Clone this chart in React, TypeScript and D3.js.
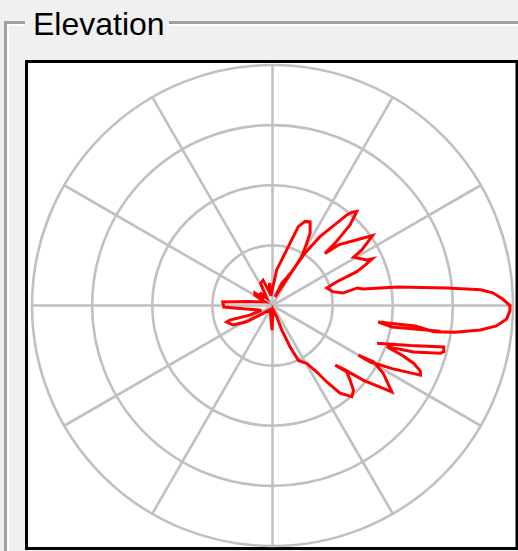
import React, { useEffect } from "react";
import * as d3 from "d3";

const title = "Elevation";

// pattern traced around the plot, [angle deg (0 = right, ccw), gain dB]
const lowerLobes = [
  [-19.9, -21.5], [-16.2, -16.1], [-13.6, -10.7], [-15.1, -10.5], [-15.9, -11.0], [-18.2, -15.3], [-19.8, -19.8],
  [-21.0, -16.9], [-22.3, -14.6], [-23.9, -13.1], [-25.2, -12.8], [-27.8, -17.5], [-30.0, -21.2], [-30.0, -23.5],
  [-29.1, -20.8], [-31.5, -18.4], [-35.9, -15.5], [-39.4, -20.4], [-41.9, -24.2], [-43.6, -25.6],
  [-41.8, -23.4], [-43.9, -22.1], [-46.3, -20.5], [-49.0, -19.9], [-52.4, -21.6], [-54.6, -24.4],
  [-56.3, -26.7], [-59.4, -28.8], [-64.7, -29.9], [-67.0, -32.5], [-69.4, -35.6], [-69.4, -38.0],
];

const backLobes = [
  [-83, -39.3], [-91, -35.9], [-120, -39.2], [215.3, -36.8], [212.1, -34.9], [206.4, -32.7], [199.8, -31.9],
  [198.8, -32.5], [202.9, -35.9], [202.6, -38.0], [185.3, -34.6], [181.8, -31.9], [176, -31.7], [170, -36.2],
  [155, -38.6], [150, -36.6], [144.5, -36.4], [140, -38.2], [135, -37.0], [128, -38.4], [118, -35.8],
  [110.4, -35.5], [104, -37.6], [97, -36.2], [100, -38.4],
];

const upperLobes = [
  [83.2, -34.0], [75.7, -30.5], [71.9, -26.2], [68.8, -25.0], [65.8, -24.75], [62.5, -26.45], [61.2, -28.2],
  [59.1, -30.5], [59.6, -33.1], [67.5, -36.0], [74, -38.5], [60, -33.0],
  [58.2, -29.7], [55.4, -26.1], [50.6, -20.5], [49.5, -19.6], [48.1, -19.0], [46.1, -21.4], [45.6, -23.2],
  [44.9, -25.3], [44.8, -27.7], [42.6, -25.1], [37.9, -22.2], [34.9, -19.7], [31.9, -22.5], [30.8, -24.3],
  [25.8, -22.6], [25.1, -21.7], [23.6, -23.2], [21.9, -24.9], [21.2, -26.7], [20.3, -28.6], [17.8, -30.5],
];

const mainLobe = [
  [12.9, -29.7], [10.0, -28.1], [11.7, -25.6], [10.3, -24.7], [8.45, -19.0], [5.7, -10.8], [4.3, -5.3],
  [3.3, -3.3], [1.6, -1.7], [0, -0.5], [-1.3, -0.5], [-3.3, -1.0], [-5.2, -2.6], [-6.7, -5.2], [-8.3, -9.3],
  [-9.25, -12.8], [-8.2, -16.0], [-8.9, -22.2], [-10.2, -19.8], [-8.7, -11.75],
];

const ringLevels = [-30, -20, -10, 0];
const spokeAngles = [0, 30, 60, 90, 120, 150, 180, 210, 240, 270, 300, 330];

const W = 518;
const H = 551;
const cx = 272.5;
const cy = 305.5;
const R = 240.5;

const App = () => {
  useEffect(() => {
    document.body.style.margin = "0";
  }, []);

  const r = d3.scaleLinear().domain([-40, 0]).range([0, R]).clamp(true);
  const rad = (a: number) => (a * Math.PI) / 180;

  const line = d3
    .line<number[]>()
    .x(d => cx + r(d[1]) * Math.cos(rad(d[0])))
    .y(d => cy - r(d[1]) * Math.sin(rad(d[0])));

  const pattern = [...lowerLobes, ...backLobes, ...upperLobes, ...mainLobe];
  const grey = "#a0a0a0";

  return (
    <svg width={W} height={H} style={{ display: "block" }}>
      <rect width={W} height={H} fill="#f0f0f0" />

      {/* group box frame */}
      <path d={`M5.5,${H} V22.5 H25 M169,22.5 H${W}`} fill="none" stroke={grey} strokeWidth={3} />
      <path d={`M8,${H} V25 H25 M169,25 H${W}`} fill="none" stroke="#ffffff" strokeWidth={2} />
      <text x={33} y={35} fontFamily="Liberation Sans, Arial, sans-serif" fontSize={32} fill="#000">
        {title}
      </text>

      {/* plot area */}
      <rect x={26.5} y={61.5} width={490.5} height={487} fill="#ffffff" stroke="#000" strokeWidth={3} />

      <g stroke="#c0c0c0" strokeWidth={2.6} fill="none">
        {ringLevels.map(l => (
          <circle key={l} cx={cx} cy={cy} r={r(l)} />
        ))}
        {spokeAngles.map(a => (
          <line
            key={a}
            x1={cx}
            y1={cy}
            x2={cx + R * Math.cos(rad(a))}
            y2={cy - R * Math.sin(rad(a))}
          />
        ))}
      </g>

      <path d={line(pattern) || ""} fill="none" stroke="#ff0000" strokeWidth={3} strokeLinejoin="miter" />
    </svg>
  );
};

export default App;
